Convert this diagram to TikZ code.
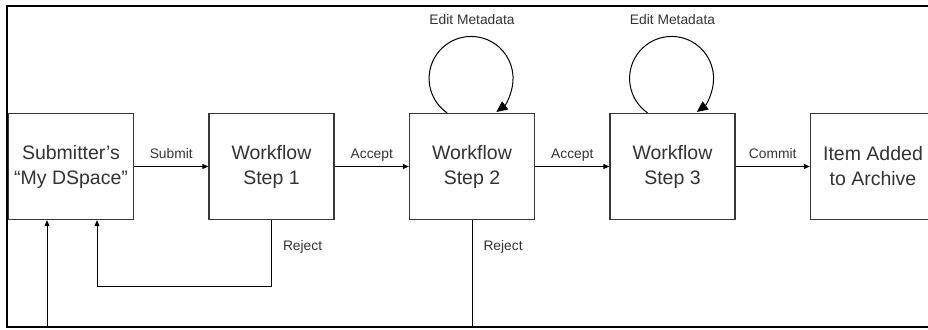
\documentclass[tikz,border=0pt]{standalone}
\usepackage{fontspec}
\setmainfont{Liberation Sans}
\usetikzlibrary{positioning,arrows.meta}

\definecolor{inktext}{RGB}{51,51,51}
\definecolor{boxline}{RGB}{55,55,55}

\tikzset{
  stage/.style={draw=boxline, line width=1.3pt, minimum width=125pt, minimum height=106pt,
    inner sep=0pt, align=center, text=inktext, font=\fontsize{19.5}{25}\selectfont},
  flow/.style={line width=1pt, -{Triangle[length=6pt,width=5pt]}},
  selfflow/.style={line width=1pt, -{Triangle[length=11pt,width=10pt]}},
  tag/.style={inner sep=0pt, text=inktext, text height=10pt, text depth=3pt,
    font=\fontsize{13.8}{16}\selectfont}
}

\begin{document}
\begin{tikzpicture}[x=1pt, y=1pt, node distance=74.2pt]
\useasboundingbox (0,0) rectangle (928,329);
\clip (0,0) rectangle (928,329);

% frame, open to the right
\draw[line width=2pt] (960,323) -- (7,323) -- (7,2) -- (960,2);

% the stages
\node[stage] (sub) at (71,162.5) {Submitter’s\\“My DSpace”};
\node[stage, right=of sub] (w1) {Workflow\\Step 1};
\node[stage, right=of w1] (w2) {Workflow\\Step 2};
\node[stage, right=of w2] (w3) {Workflow\\Step 3};
\node[stage, right=of w3] (arch) {Item Added\\to Archive};

% forward moves
\draw[flow] (sub) -- node[tag, above=4pt] {Submit} (w1);
\draw[flow] (w1) -- node[tag, above=4pt] {Accept} (w2);
\draw[flow] (w2) -- node[tag, above=4pt] {Accept} (w3);
\draw[flow] (w3) -- node[tag, above=4pt] {Commit} (arch);

% metadata editing loops
\draw[selfflow] ([xshift=-25pt]w2.north) arc[start angle=235, end angle=-53, radius=42pt];
\draw[selfflow] ([xshift=-25pt]w3.north) arc[start angle=235, end angle=-53, radius=42pt];
\node[tag, above=85pt of w2] (edit2) {Edit Metadata};
\node[tag, above=85pt of w3] (edit3) {Edit Metadata};

% rejections go back to the submitter
\coordinate (rejA) at (97,42);
\coordinate (rejB) at (47,2);
\draw[flow] (w1.south) |- node[tag, pos=0.2, anchor=west, xshift=11pt] {Reject} (rejA) -- (rejA |- sub.south);
\draw[flow] (w2.south) |- node[tag, pos=0.126, anchor=west, xshift=11pt] {Reject} (rejB) -- (rejB |- sub.south);
\end{tikzpicture}
\end{document}
